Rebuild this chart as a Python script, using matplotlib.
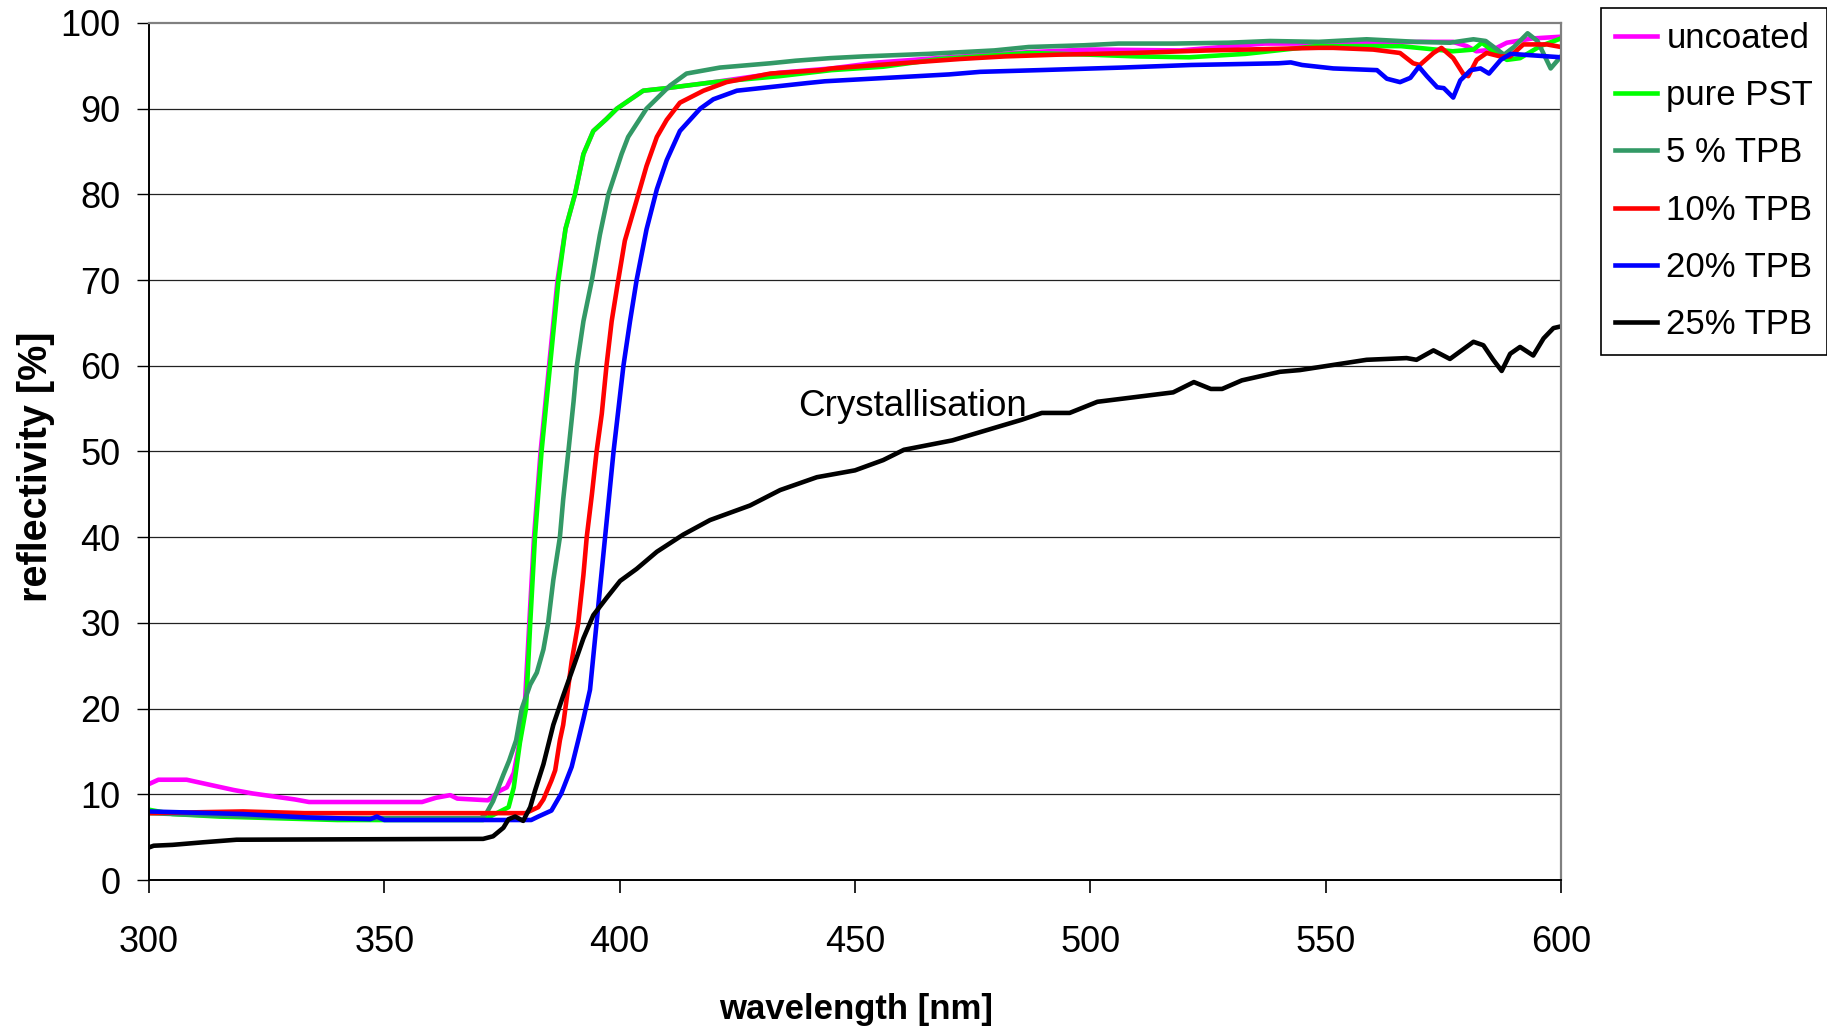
import matplotlib
matplotlib.use("Agg")
import matplotlib.pyplot as plt

# ---------------- data ----------------
labels = ["uncoated", "pure PST", "5 % TPB", "10% TPB", "20% TPB", "25% TPB"]
colors = ["#FF00FF", "#00FF00", "#339966", "#FF0000", "#0000FF", "#000000"]

wl_uncoated = [300, 302, 308, 313, 318, 322, 331, 334, 358, 361, 364, 365.5, 372, 374.5,
               376, 377.5, 378.7, 379.8, 380.8, 381.8, 383.2, 385, 386.8, 388.5, 390.5,
               392.3, 394.4, 397.2, 399.4, 405, 410, 420, 434, 445, 455, 470, 487, 500,
               519, 537, 548, 560, 570, 577, 580, 582, 585.6, 588.5, 594, 600]
r_uncoated = [11.2, 11.7, 11.7, 11.1, 10.5, 10.1, 9.4, 9.1, 9.1, 9.6, 9.9, 9.5, 9.3, 10.4,
              10.8, 12.5, 16, 20, 30, 40, 50, 60, 70, 76, 80,
              84.7, 87.4, 88.8, 90.0, 92.1, 92.4, 93.1, 94.2, 94.7, 95.4, 96.0, 96.6, 96.9,
              96.8, 97.6, 97.6, 97.7, 97.8, 97.8, 97.3, 96.7, 96.9, 97.7, 98.2, 98.4]

wl_pst = [300, 302, 305, 315, 340, 371, 376.4, 377.5, 378.8, 380.1, 381, 382, 383.4, 385.2,
          387, 388.5, 390.5, 392.3, 394.4, 397.2, 399.4, 405, 410, 420, 434, 445, 456, 468,
          487, 500, 510, 521, 533, 548, 566, 577, 581.4, 583.2, 585.6, 588.5, 591.3, 595.6, 600]
r_pst = [8.2, 8.0, 7.7, 7.4, 7.0, 7.0, 8.5, 10.8, 16, 20, 30, 40, 50, 60,
         70, 76, 80, 84.7, 87.4, 88.8, 90, 92.1, 92.4, 93.1, 93.8, 94.5, 94.9, 95.8,
         96.5, 96.3, 96.1, 96.0, 96.4, 97.3, 97.3, 96.7, 96.9, 97.7, 96.7, 95.7, 95.9, 97.3, 98.2]

wl_tpb5 = [300, 310, 330, 340, 370.5, 371.7, 373.1, 375.3, 376.5, 378, 379.2, 381, 382.4,
           383.8, 384.8, 385.9, 387.3, 388, 389.1, 390.2, 390.9, 392.3, 394.1, 395.8, 397.6,
           400.4, 401.8, 405.7, 410.7, 414.2, 421.3, 432, 437.4, 444.7, 451.8, 465.7, 479.6,
           486.9, 498.6, 506, 517.7, 529.4, 538.2, 548.5, 558.7, 569.3, 576.4, 581.4, 584,
           587.9, 590, 592.9, 595, 597.8, 600]
r_tpb5 = [7.8, 7.6, 7.3, 7.2, 7.2, 7.8, 9.2, 12.3, 13.9, 16.3, 20, 22.8, 24.2,
          26.9, 30, 35, 40, 44.4, 50, 55.8, 60, 65.2, 70, 75.3, 80,
          84.7, 86.7, 90, 92.7, 94.1, 94.8, 95.3, 95.6, 95.9, 96.1, 96.4, 96.8,
          97.2, 97.4, 97.6, 97.6, 97.7, 97.9, 97.8, 98.1, 97.8, 97.7, 98.1, 97.9,
          96.3, 97.2, 98.8, 97.9, 94.7, 96.1]

wl_tpb10 = [300, 320, 333, 380, 382.7, 383.8, 385.5, 386.3, 387.3, 388, 389.8, 391.2, 392.3,
            393, 394.1, 395.1, 396.2, 397.2, 398.3, 399.7, 401.1, 403.6, 405.7, 407.9, 410,
            412.8, 417.8, 422.7, 432, 442.6, 445.1, 459.8, 472.3, 481.8, 492.8, 508.9, 525,
            548.5, 551.6, 560.1, 565.8, 568.6, 570, 572.9, 574.6, 577.1, 579.3, 580.3, 582.1,
            584.2, 587.1, 589.2, 592, 597, 600]
r_tpb10 = [7.8, 8.0, 7.8, 7.8, 8.5, 9.4, 11.6, 12.8, 16.3, 18.1, 25.5, 30, 35.6,
           40, 45, 50, 54.4, 60, 65.2, 70, 74.6, 79.3, 83.3, 86.7, 88.7,
           90.7, 92.1, 93.1, 94.1, 94.5, 94.7, 95.3, 95.8, 96.1, 96.3, 96.5, 96.8,
           97.1, 97.1, 96.9, 96.5, 95.3, 95.1, 96.5, 97.1, 95.9, 94.0, 93.8, 95.7,
           96.5, 96.1, 96.1, 97.5, 97.5, 97.2]

wl_tpb20 = [300, 319.8, 333.4, 347, 348.4, 350, 381.2, 382.7, 385.5, 387.6, 389.8, 391.2,
            392.3, 393.7, 395.1, 396.9, 398.7, 400.8, 402.2, 403.6, 405.7, 407.9, 410, 412.8,
            417.1, 419.9, 424.9, 434.1, 440, 443.6, 456.8, 463.4, 470, 476.6, 489.1, 506.7,
            521.4, 540, 542.6, 545, 551.6, 560.9, 563, 565.8, 568, 569.8, 571.5, 573.7, 575.1,
            577.1, 578.6, 580.8, 582.9, 584.7, 587.2, 589.3, 600]
r_tpb20 = [8.0, 7.7, 7.3, 7.1, 7.4, 7.0, 7.0, 7.4, 8.1, 10.1, 13.2, 16.3,
           18.8, 22.2, 30, 40, 50, 60, 65.2, 70, 75.9, 80.6, 84, 87.4,
           90, 91.1, 92.1, 92.65, 93.0, 93.2, 93.6, 93.8, 94.0, 94.3, 94.5, 94.8,
           95.1, 95.3, 95.4, 95.1, 94.7, 94.5, 93.5, 93.1, 93.6, 94.9, 93.8, 92.5, 92.4,
           91.3, 93.3, 94.5, 94.7, 94.1, 95.7, 96.4, 96.0]

wl_tpb25 = [300, 301, 305, 311.5, 318.6, 371, 373.1, 375.3, 376.4, 377.8, 379.5, 381, 382,
            383.8, 385.9, 388, 390.2, 392.3, 394.4, 397.2, 400.1, 403.6, 407.9, 413.5, 419.2,
            427.7, 434.1, 441.9, 450, 456, 460.4, 470.7, 485.4, 489.7, 495.6, 501.5, 517.6,
            522, 525.6, 528, 532.2, 540.3, 544.5, 551.6, 558.7, 567.2, 569.3, 572.9, 576.4,
            581.4, 583.5, 585.6, 587.4, 589.2, 591.3, 594.1, 596.3, 598.4, 600]
r_tpb25 = [3.8, 4.0, 4.1, 4.4, 4.7, 4.8, 5.1, 6.1, 7.1, 7.4, 6.9, 8.5, 10.4,
           13.5, 18.1, 21.5, 24.9, 28.2, 30.9, 32.9, 34.9, 36.3, 38.3, 40.3, 42,
           43.7, 45.5, 47, 47.8, 49.0, 50.2, 51.3, 53.7, 54.5, 54.5, 55.8, 56.9,
           58.1, 57.3, 57.3, 58.3, 59.3, 59.5, 60.1, 60.7, 60.9, 60.7, 61.8, 60.8,
           62.8, 62.4, 60.7, 59.4, 61.4, 62.2, 61.2, 63.2, 64.4, 64.6]

x_ticks = [300, 350, 400, 450, 500, 550, 600]
y_ticks = [0, 10, 20, 30, 40, 50, 60, 70, 80, 90, 100]
annotation_text = "Crystallisation"
annotation_xy = (438, 55.2)

series = [(wl_uncoated, r_uncoated), (wl_pst, r_pst), (wl_tpb5, r_tpb5),
          (wl_tpb10, r_tpb10), (wl_tpb20, r_tpb20), (wl_tpb25, r_tpb25)]

# ---------------- figure ----------------
fig = plt.figure(figsize=(18.27, 10.32), dpi=100)
ax = fig.add_axes([149 / 1827, 1 - 880 / 1032, 1412 / 1827, 857 / 1032])

for (wl, r), lab, c in zip(series, labels, colors):
    ax.plot(wl, r, color=c, lw=3.3, label=lab, solid_joinstyle="round")

ax.set_xlim(300, 600)
ax.set_ylim(0, 100)
ax.set_xticks(x_ticks)
ax.set_yticks(y_ticks)

for g in y_ticks[1:-1]:
    ax.axhline(g, color="#222222", lw=0.9, zorder=0)

ax.spines["top"].set_color("#808080")
ax.spines["right"].set_color("#808080")
ax.spines["top"].set_linewidth(1.6)
ax.spines["right"].set_linewidth(1.6)
ax.spines["left"].set_color("#000000")
ax.spines["bottom"].set_color("#000000")
ax.spines["left"].set_linewidth(1.4)
ax.spines["bottom"].set_linewidth(1.4)

ax.tick_params(axis="y", direction="out", length=8.6, width=1.0, pad=12,
               labelsize=26, colors="black")
ax.tick_params(axis="x", direction="out", length=9.4, width=1.2, pad=23,
               labelsize=26, colors="black")
for lbl in ax.get_xticklabels() + ax.get_yticklabels():
    lbl.set_family("Liberation Sans")

ax.set_xlabel("wavelength [nm]", fontsize=25, fontweight="bold",
              family="Liberation Sans", va="center")
ax.xaxis.set_label_coords(0.5007, (880 - 1009) / 857)
ax.set_ylabel("reflectivity [%]", fontsize=28.5, fontweight="bold",
              family="Liberation Sans", va="center")
ax.yaxis.set_label_coords((36 - 149) / 1412, (880 - 467) / 857)

ax.text(annotation_xy[0], annotation_xy[1], annotation_text, fontsize=26.5,
        family="Liberation Sans", ha="left", va="center", color="black")

leg = ax.legend(loc="upper right", bbox_to_anchor=(1.0, 1 - 8 / 1032),
                bbox_transform=fig.transFigure, borderaxespad=0,
                prop={"family": "Liberation Sans", "size": 25},
                handlelength=1.2, handletextpad=0.28, labelspacing=0.7,
                borderpad=0.4, fancybox=False, framealpha=1, edgecolor="#000000")
leg.get_frame().set_linewidth(1.2)
for h in leg.get_lines():
    h.set_linewidth(3.3)

fig.savefig("out.png", dpi=100, facecolor="white")
